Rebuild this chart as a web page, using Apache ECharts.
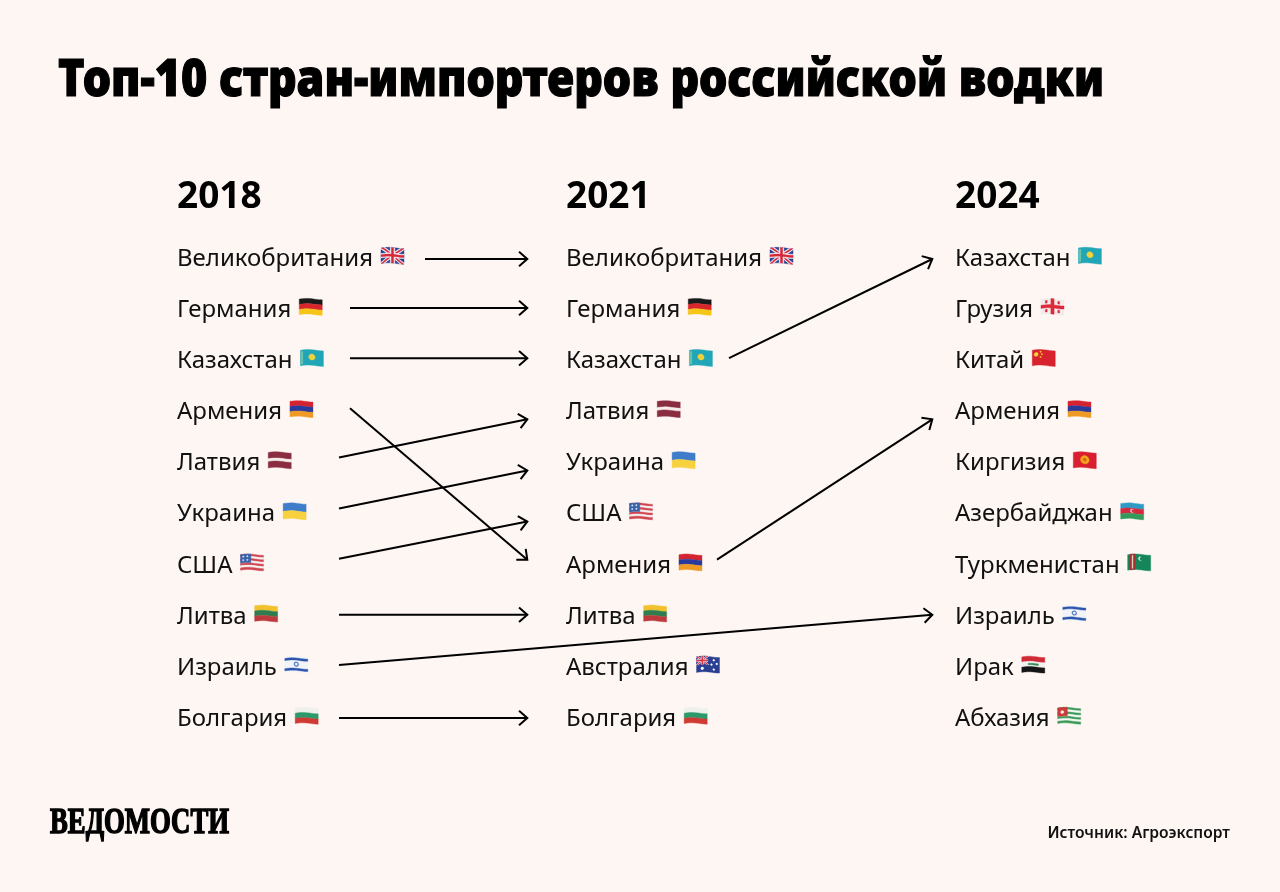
<!DOCTYPE html>
<html><head><meta charset="utf-8">
<style>html,body{margin:0;padding:0;background:#fdf6f3}#c{width:1280px;height:892px}</style>
<script src="https://cdn.jsdelivr.net/npm/echarts@6/dist/echarts.min.js"></script>
</head><body><div id="c"></div>
<script>
const years = ['2018', '2021', '2024'];
const top2018 = ['Великобритания','Германия','Казахстан','Армения','Латвия','Украина','США','Литва','Израиль','Болгария'];
const top2021 = ['Великобритания','Германия','Казахстан','Латвия','Украина','США','Армения','Литва','Австралия','Болгария'];
const top2024 = ['Казахстан','Грузия','Китай','Армения','Киргизия','Азербайджан','Туркменистан','Израиль','Ирак','Абхазия'];
const lists = [top2018, top2021, top2024];
// [country, from column, to column]
const moves = [
  ['Великобритания',0,1],['Германия',0,1],['Казахстан',0,1],['Армения',0,1],['Латвия',0,1],
  ['Украина',0,1],['США',0,1],['Литва',0,1],['Израиль',0,2],['Болгария',0,1],
  ['Казахстан',1,2],['Армения',1,2]
];
// drawing tweaks, parallel to moves: start inset, end inset, dy start, dy end (px)
const moveStyle = [
  [248,38,1,1],[173,38,-1,-1],[173,38,-2,-2],[173,38,-3,-5],[162,38,-5,8],
  [162,38,-5,8],[162,38,-6,8],[162,38,-1,-1],[162,22,-2,-1],[162,38,0,0],
  [163,22,-2,1],[151,22,-5,8]
];

const BG = '#fdf6f3', INK = '#111111';
const LABEL_FONT = '"Noto Sans"', LABEL_SIZE = 24, LABEL_WIDTH_REF = 196;
const TITLE_TEXT = 'Топ-10 стран-импортеров российской водки';
const TITLE_FONT = '900 51px "Noto Sans"', TITLE_WIDTH = 1046;
const LOGO_TEXT = 'ВЕДОМОСТИ';
const LOGO_FONT = 'bold 36px "Liberation Serif"', LOGO_WIDTH = 179;

const measure = document.createElement('canvas').getContext('2d');
function widthOf(t,f){ measure.font = f; return measure.measureText(t).width; }
function labelWidth(t){ return widthOf(t, LABEL_SIZE + 'px ' + LABEL_FONT); }
function labelScale(){ return LABEL_WIDTH_REF / labelWidth('Великобритания'); }

// ---- flag artwork, unit square coordinates
const R = (a,b,c,d,col) => ({p:[[a,b],[c,b],[c,d],[a,d]],c:col});
const P = (pts,col) => ({p:pts,c:col});
const C = (u,v,r,col) => { const p=[]; for(let i=0;i<14;i++){const t=i/14*Math.PI*2;p.push([u+r*Math.cos(t)*0.7,v+r*Math.sin(t)]);} return {p,c:col}; };
const H = (cols,ws) => { const tot=ws?ws.reduce((a,b)=>a+b):cols.length; let y=0; return cols.map((c,i)=>{const h=(ws?ws[i]:1)/tot; const r=R(0,y,1,y+h,c); y+=h; return r;}); };
const ukArt = (a,b,c,d) => { const w=c-a,h=d-b,U=(x,y)=>[a+x*w,b+y*h]; const D=(x0,y0,x1,y1,t,col)=>P([U(x0-t,y0),U(x0+t,y0),U(x1+t,y1),U(x1-t,y1)],col);
  return [R(a,b,c,d,'#27408f'),D(0.05,0,0.95,1,0.12,'#fff'),D(0.95,0,0.05,1,0.12,'#fff'),D(0.05,0,0.95,1,0.05,'#d4283b'),D(0.95,0,0.05,1,0.05,'#d4283b'),
    R(a+0.4*w,b,a+0.6*w,d,'#fff'),R(a,b+0.36*h,c,b+0.64*h,'#fff'),R(a+0.45*w,b,a+0.55*w,d,'#d4283b'),R(a,b+0.43*h,c,b+0.57*h,'#d4283b')]; };
const usStripes = []; for(let i=0;i<7;i++) usStripes.push(i%2?'#f3f0f0':'#d1434f');
const abStripes = []; for(let i=0;i<7;i++) abStripes.push(i%2?'#f4f7f0':'#3a9a5a');
const flags = {
  'Великобритания': ukArt(0,0,1,1),
  'Германия': H(['#1a1a1a','#d8262c','#f5c518']),
  'Казахстан': [R(0,0,1,1,'#21a6b8'),C(0.5,0.47,0.2,'#f0d23c'),R(0.04,0.1,0.1,0.9,'#7fc9a0')],
  'Армения': H(['#d5232f','#2a3a9c','#ee9a25']),
  'Латвия': H(['#8a2d40','#f4ecea','#8a2d40'],[2,1,2]),
  'Украина': H(['#3f7cc9','#f7d23e']),
  'США': H(usStripes).concat([R(0,0,0.45,0.55,'#3a62a8'),C(0.12,0.15,0.05,'#dfe6f4'),C(0.3,0.15,0.05,'#dfe6f4'),C(0.12,0.38,0.05,'#dfe6f4'),C(0.3,0.38,0.05,'#dfe6f4')]),
  'Литва': H(['#f2c22e','#2f7d4f','#bd3a3c']),
  'Австралия': [R(0,0,1,1,'#2a3f92')].concat(ukArt(0,0,0.5,0.52),[C(0.25,0.78,0.09,'#fff'),C(0.75,0.2,0.06,'#fff'),C(0.88,0.42,0.06,'#fff'),C(0.65,0.5,0.06,'#fff'),C(0.75,0.8,0.06,'#fff')]),
  'Израиль': [R(0,0,1,1,'#f3f4f8'),R(0,0.1,1,0.24,'#2b55ad'),R(0,0.76,1,0.9,'#2b55ad'),C(0.5,0.5,0.15,'#4a6fbe'),C(0.5,0.5,0.08,'#f3f4f8')],
  'Болгария': H(['#eef0ec','#2c9a6a','#cf3a33']),
  'Грузия': [R(0,0,1,1,'#f3ecec'),R(0.43,0,0.57,1,'#dd2a3b'),R(0,0.4,1,0.6,'#dd2a3b'),R(0.19,0.13,0.27,0.3,'#dd2a3b'),R(0.73,0.13,0.81,0.3,'#dd2a3b'),R(0.19,0.7,0.27,0.87,'#dd2a3b'),R(0.73,0.7,0.81,0.87,'#dd2a3b')],
  'Китай': [R(0,0,1,1,'#d8232f'),C(0.17,0.3,0.13,'#f5d33c'),C(0.36,0.14,0.05,'#f5d33c'),C(0.42,0.3,0.05,'#f5d33c'),C(0.36,0.48,0.05,'#f5d33c')],
  'Киргизия': [R(0,0,1,1,'#d91f2f'),C(0.5,0.5,0.27,'#f3a71c'),C(0.5,0.5,0.1,'#d9601f')],
  'Азербайджан': H(['#2f9ac4','#d5283f','#339a5c']).concat([C(0.5,0.5,0.11,'#f4f1f1'),C(0.53,0.5,0.08,'#d5283f')]),
  'Туркменистан': [R(0,0,1,1,'#148659'),R(0.1,0,0.32,1,'#a5303a'),R(0.19,0.08,0.23,0.92,'#e8d9b8'),C(0.55,0.28,0.12,'#e9f3ec'),C(0.6,0.28,0.1,'#148659')],
  'Ирак': H(['#cf2a35','#f2f0ee','#151515']).concat([R(0.28,0.45,0.72,0.55,'#2f8a55')]),
  'Абхазия': H(abStripes).concat([R(0,0,0.42,0.55,'#c93a38'),C(0.2,0.3,0.1,'#f4f0ea')])
};
const FLAG_W = 23, FLAG_H = 15.5;
function warp(u,v,x,y){ return [x+u*FLAG_W, y+v*FLAG_H-0.7*Math.sin(u*Math.PI*1.5)]; }
function dens(pts){ const out=[]; const N=8; pts.forEach((a,i)=>{const b=pts[(i+1)%pts.length]; for(let k=0;k<N;k++){out.push([a[0]+(b[0]-a[0])*k/N,a[1]+(b[1]-a[1])*k/N]);}}); return out; }
function flagShapes(name,x,y){
  const art = flags[name] || [];
  return art.map(s => ({type:'polygon',silent:true,shape:{points:dens(s.p).map(q=>warp(q[0],q[1],x,y))},style:{fill:s.c,stroke:s.c,lineWidth:0.4}}));
}

// ---- series data
const rowData = [];
lists.forEach((l,c)=>l.forEach((n,i)=>rowData.push([c,i+1,n])));
const moveData = moves.map((m,i)=>[m[1],lists[m[1]].indexOf(m[0])+1,m[2],lists[m[2]].indexOf(m[0])+1,i]);

const chart = echarts.init(document.getElementById('c'));
chart.setOption({
  animation:false,
  backgroundColor:BG,
  grid:{left:177,right:325,top:258,bottom:174},
  xAxis:{type:'category',data:years,boundaryGap:false,position:'top',
    axisLine:{show:false},axisTick:{show:false},splitLine:{show:false},
    axisLabel:{interval:0,align:'left',margin:42,color:'#000',fontFamily:'"Noto Sans"',fontWeight:'bold',fontSize:37}},
  yAxis:{type:'value',inverse:true,min:1,max:10,interval:1,show:false},
  graphic:[
    {type:'text',x:58,y:81.5,scaleX:TITLE_WIDTH/widthOf(TITLE_TEXT,TITLE_FONT),
     style:{text:TITLE_TEXT,font:TITLE_FONT,fill:'#000',stroke:'#000',lineWidth:1.2,textVerticalAlign:'middle',verticalAlign:'middle'}},
    {type:'text',x:50,y:824,scaleX:LOGO_WIDTH/widthOf(LOGO_TEXT,LOGO_FONT),
     style:{text:LOGO_TEXT,font:LOGO_FONT,fill:'#000',stroke:'#000',lineWidth:1.5,textVerticalAlign:'middle',verticalAlign:'middle'}},
    {type:'text',right:50,top:826,style:{text:'Источник: Агроэкспорт',font:'600 15.6px "Noto Sans"',fill:'#111'}}
  ],
  series:[
    {type:'custom',coordinateSystem:'cartesian2d',clip:false,silent:true,data:moveData,encode:{x:[0,2],y:[1,3]},
     renderItem(params,api){
       const a=api.coord([api.value(0),api.value(1)]), b=api.coord([api.value(2),api.value(3)]);
       const st=moveStyle[api.value(4)];
       const x0=a[0]+st[0], y0=a[1]+st[2], x1=b[0]-st[1]-0.7, y1=b[1]+st[3];
       const ang=Math.atan2(y1-y0,x1-x0), L=11, sp=0.72;
       const h1=[x1-L*Math.cos(ang-sp),y1-L*Math.sin(ang-sp)], h2=[x1-L*Math.cos(ang+sp),y1-L*Math.sin(ang+sp)];
       const ls={stroke:'#000',lineWidth:2,fill:null};
       return {type:'group',children:[
         {type:'line',shape:{x1:x0,y1:y0,x2:x1,y2:y1},style:ls},
         {type:'polyline',shape:{points:[h1,[x1,y1],h2]},style:ls}
       ]};
     }},
    {type:'custom',coordinateSystem:'cartesian2d',clip:false,silent:true,data:rowData,encode:{x:0,y:1},
     renderItem(params,api){
       const pt=api.coord([api.value(0),api.value(1)]);
       const name=rowData[params.dataIndex][2];
       const s=labelScale(), w=labelWidth(name)*s;
       return {type:'group',children:[
         {type:'text',x:pt[0],y:pt[1]+1,scaleX:s,silent:true,style:{text:name,font:LABEL_SIZE+'px '+LABEL_FONT,fill:INK,textAlign:'left',textVerticalAlign:'middle',verticalAlign:'middle'}}
       ].concat(flagShapes(name,pt[0]+w+8,pt[1]-10))};
     }}
  ]
});
</script></body></html>
